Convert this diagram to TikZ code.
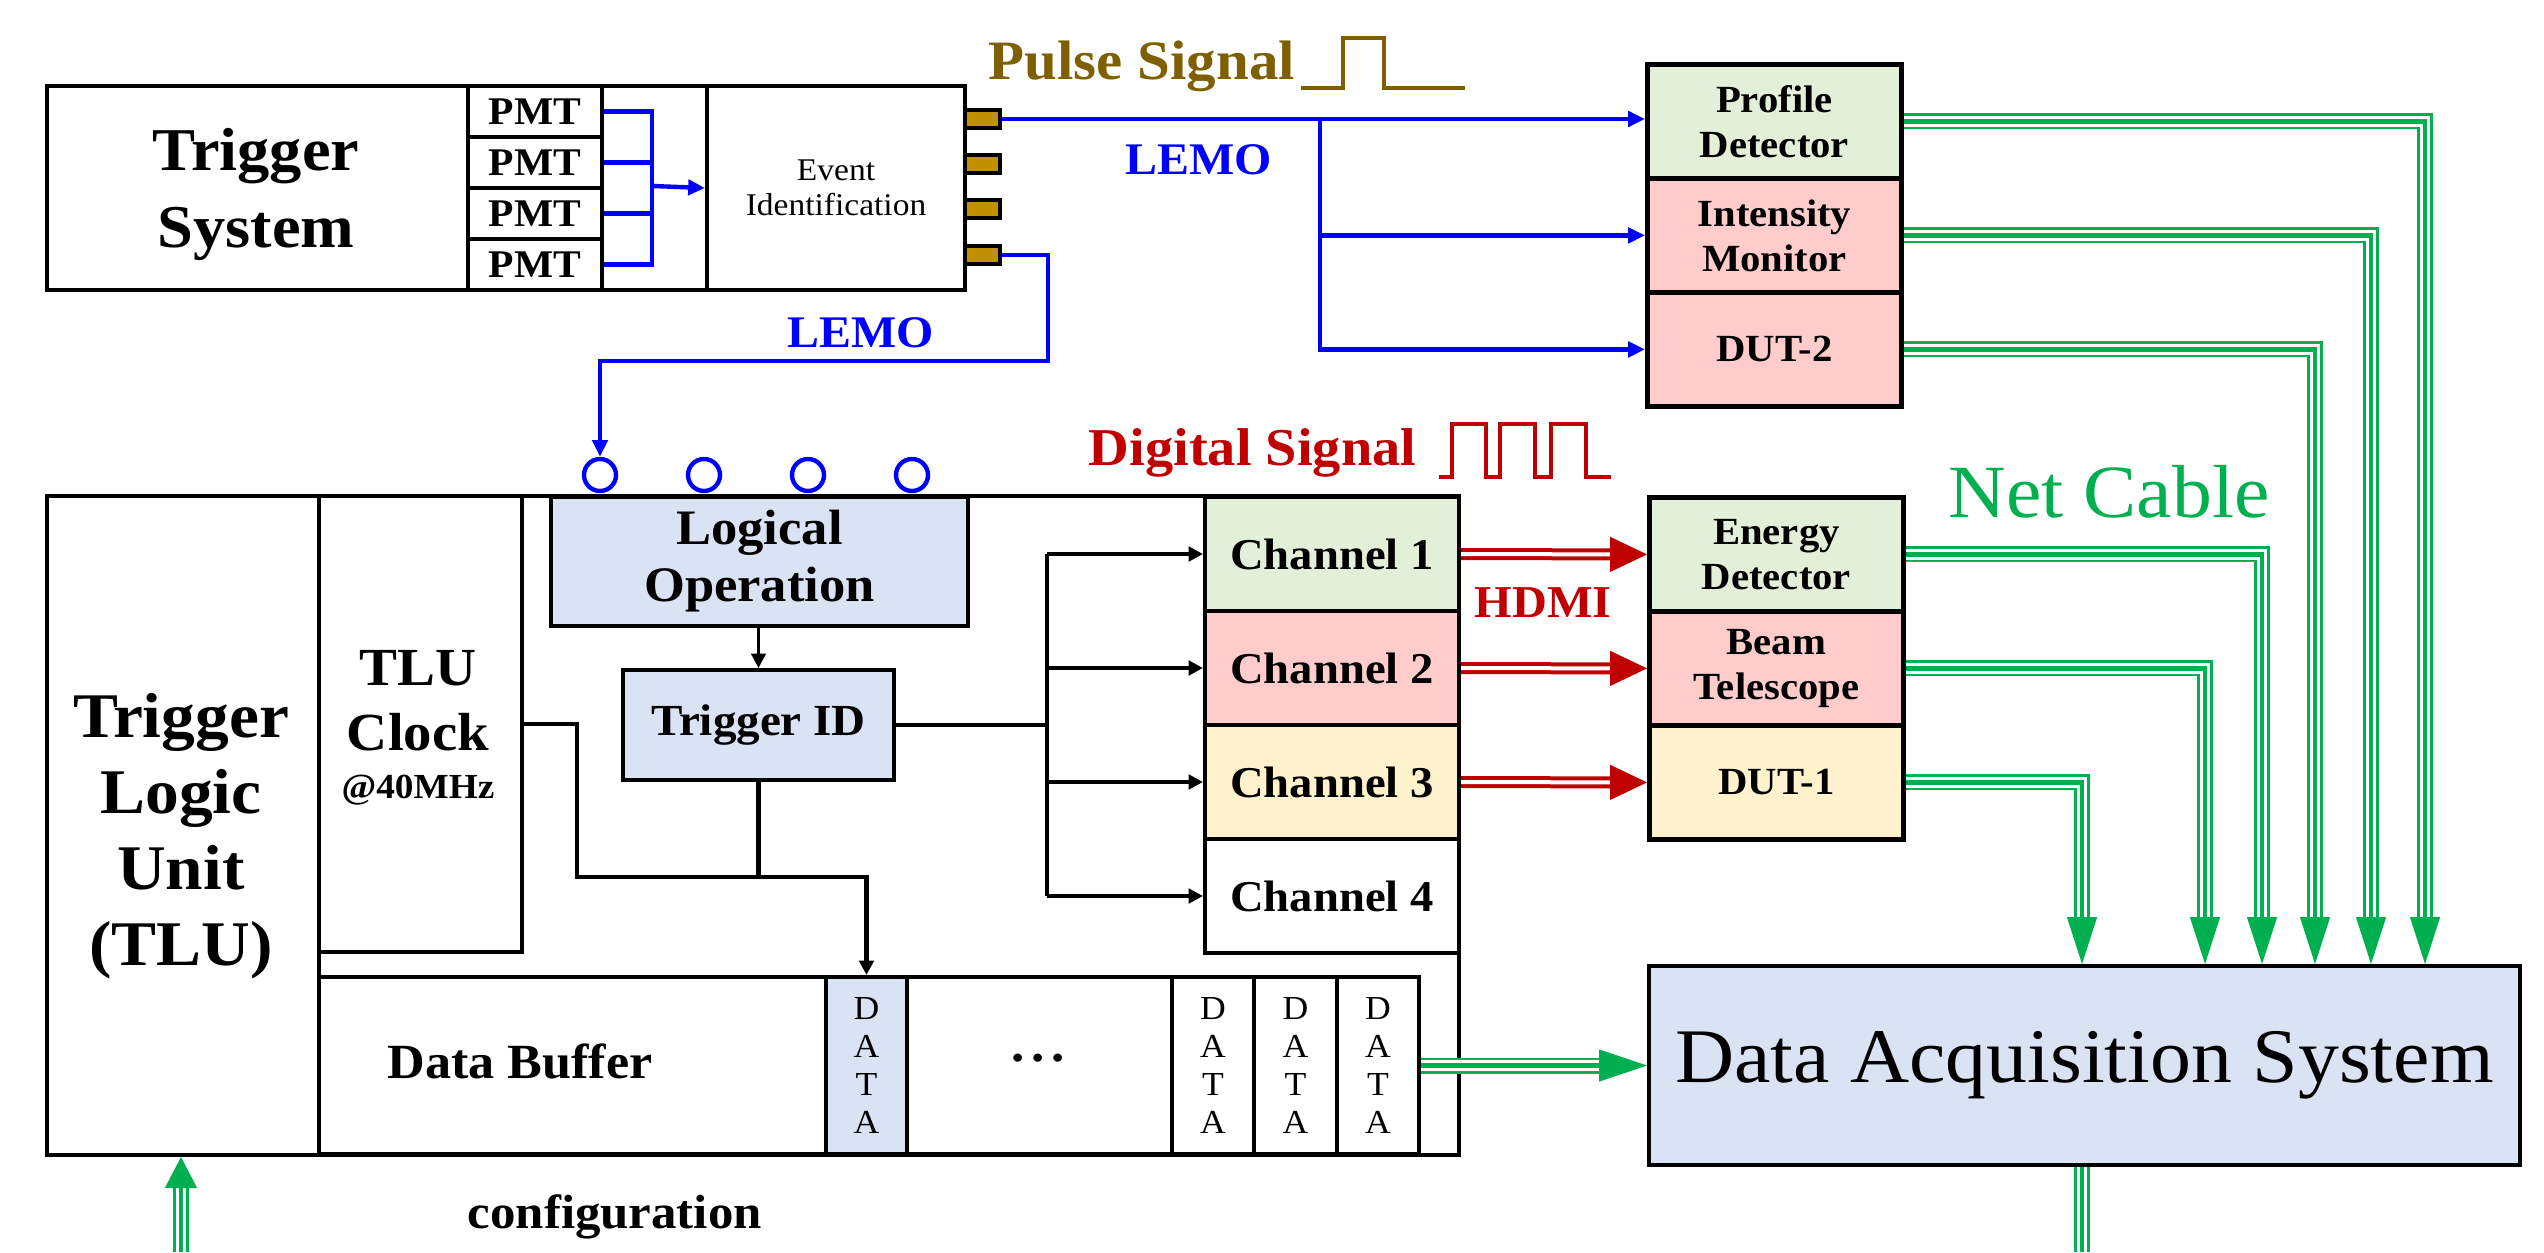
\documentclass[tikz,border=0pt]{standalone}
\usepackage{fontspec}
\setmainfont{Liberation Serif}[FakeStretch=1.06]
\usetikzlibrary{arrows.meta,calc}

\definecolor{plug}{RGB}{191,144,0}
\definecolor{pulsebrown}{RGB}{127,96,0}
\definecolor{hdmired}{RGB}{192,0,0}
\definecolor{netgreen}{RGB}{0,176,80}
\definecolor{lemoblue}{RGB}{0,0,255}
\definecolor{fgreen}{RGB}{226,240,217}
\definecolor{fpink}{RGB}{255,204,204}
\definecolor{fyellow}{RGB}{255,242,204}
\definecolor{fblue}{RGB}{218,227,243}

\tikzset{
  wh/.style 2 args={minimum width=#1*0.25pt, minimum height=#2*0.25pt},
  box/.style={draw=black, line width=1pt, inner sep=0pt, anchor=north west, align=center},
  rbox/.style={box, line width=1.2pt},
  plugbox/.style={draw=black, line width=1pt, fill=plug, inner sep=0pt, anchor=west, wh={35}{18}},
  port/.style={circle, draw=lemoblue, line width=1.1pt, minimum size=8pt, inner sep=0pt},
  lemoline/.style={draw=lemoblue, line width=1.1pt},
  wire/.style={draw=black, line width=1.2pt},
  thinwire/.style={draw=black, line width=0.8pt},
  tipb/.style={-{Triangle[length=4.2pt,width=3.8pt]}},
  tipk/.style={-{Triangle[length=3.6pt,width=3.6pt]}},
  net/.style={draw=netgreen, line width=4pt,
    postaction={draw=white, line width=2.6pt},
    postaction={draw=netgreen, line width=1.2pt}},
  nettip/.style={draw=netgreen, fill=netgreen, line width=0.3pt, -{Triangle[length=11.75pt,width=7.5pt]}},
  hdmi/.style={draw=hdmired, line width=3pt, postaction={draw=white, line width=1pt}},
  hdmitip/.style={draw=hdmired, fill=hdmired, line width=0.3pt, -{Triangle[length=9.25pt,width=8.75pt]}},
  huge/.style={font=\fontsize{15.2}{19.25}\selectfont\bfseries, align=center},
  boxlbl/.style={font=\fontsize{9.6}{11.25}\selectfont\bfseries},
  lbl/.style={inner sep=0pt, anchor=base west},
  chan/.style={box, wh={254}{114}, font=\fontsize{11}{13}\selectfont\bfseries},
  datacell/.style={box, font=\fontsize{8.4}{9.5}\selectfont},
}

\begin{document}
\begin{tikzpicture}[x=0.25pt, y=-0.25pt]
\useasboundingbox (0,0) rectangle (2544,1252);

% ---------------- trigger system ----------------
\node[box, wh={918}{204}] (ts) at (45,84) {};
\node[huge] (tstxt) at (256,194) {Trigger\\System};
\foreach \i/\y in {1/84,2/135,3/186,4/237}
  \node[box, wh={134}{51}, font=\fontsize{9.8}{11}\selectfont\bfseries] (pmt\i) at (466,\y) {PMT};
\node[box, wh={258}{204}, font=\fontsize{7.9}{8.75}\selectfont] (evid) at (705,84) {Event\\Identification};
\foreach \i/\y in {1/119,2/164,3/209,4/255}
  \node[plugbox] (con\i) at (963,\y) {};

% PMT signals merged into event identification
\coordinate (bus) at (652,186);
\foreach \i in {1,...,4}
  \draw[lemoline] (pmt\i.east) -| (bus);
\draw[lemoline, tipb] (bus) -- (evid.west);

% ---------------- beam instrumentation (pulse) ----------------
\node[rbox, fill=fgreen, wh={254}{114}, boxlbl] (pd) at (1645,62) {Profile\\Detector};
\node[rbox, fill=fpink, wh={254}{114}, boxlbl] (im) at (1645,176) {Intensity\\Monitor};
\node[rbox, fill=fpink, wh={254}{114}, boxlbl] (dut2) at (1645,290) {DUT-2};

\draw[lemoline, tipb] (con1.east) -- (con1.east -| pd.west);
\coordinate (br) at (1320,119);
\draw[lemoline, tipb] (br) |- (im.west);
\draw[lemoline, tipb] (br) |- (dut2.west);

\node[lbl, text=pulsebrown, font=\fontsize{13.9}{16}\selectfont\bfseries] (pulselbl) at (988,80) {Pulse Signal};
\draw[pulsebrown, line width=1.2pt] (1301,88) -- (1343,88) -- (1343,38) -- (1384,38) -- (1384,88) -- (1465,88);
\node[lbl, text=lemoblue, font=\fontsize{11.3}{14}\selectfont\bfseries] (lemoa) at (1125,175) {LEMO};

% ---------------- trigger logic unit ----------------
\node[box, wh={1412}{659}] (tlu) at (45,494) {};
\node[box, wh={272}{659}] (tlucol) at (45,494) {};
\node[huge, font=\fontsize{15.9}{19}\selectfont\bfseries] (tlutxt) at (181,836) {Trigger\\Logic\\Unit\\(TLU)};
\node[box, wh={203}{456}] (clk) at (317,494) {};
\node[align=center, font=\fontsize{13.4}{16.25}\selectfont\bfseries] (clktxt) at (418,701) {TLU\\Clock};
\node[anchor=base, font=\fontsize{8.8}{10}\selectfont\bfseries] (clkfreq) at (418,798) {@40MHz};

\node[box, fill=fblue, wh={417}{129}, font=\fontsize{12.4}{14.25}\selectfont\bfseries] (lop) at (549,495) {Logical\\Operation};
\node[box, fill=fblue, wh={271}{110}, font=\fontsize{11.1}{13}\selectfont\bfseries] (tid) at (621,668) {Trigger ID};

\foreach \i/\x in {1/600,2/704,3/808,4/912}
  \node[port] (p\i) at (\x,475) {};

\node[chan, fill=fgreen] (ch1) at (1203,495) {Channel 1};
\node[chan, fill=fpink] (ch2) at (1203,609) {Channel 2};
\node[chan, fill=fyellow] (ch3) at (1203,723) {Channel 3};
\node[chan, fill=white] (ch4) at (1203,837) {Channel 4};

% data buffer
\node[box, wh={507}{177}] (dbuf) at (317,975) {};
\node[font=\fontsize{12.3}{14}\selectfont\bfseries] (dbuftxt) at (520,1061) {Data Buffer};
\node[datacell, fill=fblue, wh={81}{177}] (d1) at (824,975) {D\\A\\T\\A};
\node[box, wh={265}{177}] (gap) at (905,975) {};
\node[font=\fontsize{12.5}{14}\selectfont\bfseries] (dots) at (1038,1058) {.\hspace{1.6pt}.\hspace{1.6pt}.};
\node[datacell, wh={82}{177}] (d2) at (1170,975) {D\\A\\T\\A};
\node[datacell, wh={83}{177}] (d3) at (1252,975) {D\\A\\T\\A};
\node[datacell, wh={82}{177}] (d4) at (1335,975) {D\\A\\T\\A};

% LEMO input to the first port
\coordinate (lemoturn) at (1048,361);
\draw[lemoline, tipb] (con4.east) -| (lemoturn) -| (p1.north);
\node[lbl, text=lemoblue, font=\fontsize{11.3}{14}\selectfont\bfseries] (lemob) at (787,347) {LEMO};

% internal logic
\draw[thinwire, tipk] (lop.south -| tid.north) -- (tid.north);
\coordinate (merge) at (577,877);
\draw[wire, tipk] (clk.east) -| (merge) -| (d1.north);
\draw[wire] (tid.south) -- (tid.south |- merge);
\coordinate (fan) at (1047,723);
\draw[wire] (tid.east) -- (tid.east -| fan);
\draw[wire] (ch1.west -| fan) -- (ch4.west -| fan);
\foreach \i in {1,...,4}
  \draw[wire, tipk] (ch\i.west -| fan) -- (ch\i.west);

\node[lbl, text=hdmired, font=\fontsize{13.3}{15}\selectfont\bfseries] (diglbl) at (1088,465) {Digital Signal};
\draw[hdmired, line width=1.2pt] (1439,477) -- (1452,477) -- (1452,424) -- (1486,424) -- (1486,477)
  -- (1500,477) -- (1500,424) -- (1535,424) -- (1535,477) -- (1551,477) -- (1551,424)
  -- (1586,424) -- (1586,477) -- (1611,477);

% ---------------- beam instrumentation (digital) ----------------
\node[rbox, fill=fgreen, wh={254}{114}, boxlbl] (ed) at (1647,495) {Energy\\Detector};
\node[rbox, fill=fpink, wh={254}{114}, boxlbl] (bt) at (1647,609) {Beam\\Telescope};
\node[rbox, fill=fyellow, wh={254}{114}, boxlbl] (dut1) at (1647,723) {DUT-1};

\draw[hdmi] (ch1.east) -- ($(ed.west)+(-37,0)$);
\draw[hdmitip] ($(ed.west)+(-37,0)$) -- (ed.west);
\draw[hdmi] (ch2.east) -- ($(bt.west)+(-37,0)$);
\draw[hdmitip] ($(bt.west)+(-37,0)$) -- (bt.west);
\draw[hdmi] (ch3.east) -- ($(dut1.west)+(-37,0)$);
\draw[hdmitip] ($(dut1.west)+(-37,0)$) -- (dut1.west);
\node[lbl, text=hdmired, font=\fontsize{11.4}{14}\selectfont\bfseries] (hdmilbl) at (1474,617) {HDMI};

% ---------------- data acquisition ----------------
\node[box, fill=fblue, wh={871}{199}, font=\fontsize{19.3}{22}\selectfont] (daq) at (1647,964) {Data Acquisition System};
\node[anchor=base, inner sep=0pt, text=netgreen, font=\fontsize{18.8}{22}\selectfont] (netlbl) at (2109,517) {Net Cable};

\coordinate (a1) at (2082,917);
\coordinate (a2) at (2205,917);
\coordinate (a3) at (2262,917);
\coordinate (a4) at (2315,917);
\coordinate (a5) at (2371,917);
\coordinate (a6) at (2425,917);
\draw[net] (pd.east) -| (a6);
\draw[net] (im.east) -| (a5);
\draw[net] (dut2.east) -| (a4);
\draw[net] (ed.east) -| (a3);
\draw[net] (bt.east) -| (a2);
\draw[net] (dut1.east) -| (a1);
\foreach \k in {1,...,6}
  \draw[nettip] (a\k) -- (a\k |- daq.north);

\coordinate (dqin) at ($(daq.west)+(-48,0)$);
\draw[net] (d4.east) -- (dqin);
\draw[nettip, -{Triangle[length=12pt,width=8pt]}] (dqin) -- (daq.west);

\coordinate (daqout) at (2082,1252);
\draw[net] (daq.south -| daqout) -- (daqout);

\coordinate (cfgin) at (181,1252);
\coordinate (cfgtip) at (181,1183);
\draw[net] (cfgin) -- (cfgtip);
\draw[nettip, -{Triangle[length=7.75pt,width=8pt]}] (cfgtip) -- (cfgtip |- tlu.south);
\node[lbl, font=\fontsize{12}{14}\selectfont\bfseries] (cfglbl) at (467,1228) {configuration};

\end{tikzpicture}
\end{document}
